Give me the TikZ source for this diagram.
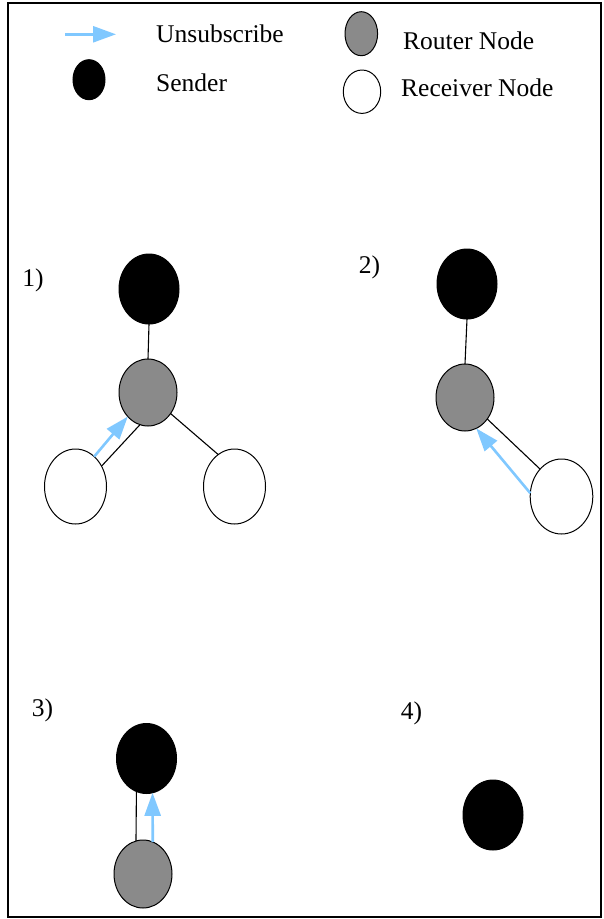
\documentclass[tikz,border=0pt]{standalone}
\usepackage{fontspec}
\setmainfont{Liberation Serif}
\usetikzlibrary{shapes.geometric,arrows.meta}
\definecolor{unsubblue}{RGB}{128,200,255}
\definecolor{routergray}{RGB}{138,138,138}
\begin{document}
\begin{tikzpicture}[x=1pt,y=-1pt,
  nd/.style={ellipse,draw=black,line width=1pt,inner sep=0pt,outer sep=0pt},
  sz/.style 2 args={minimum width=#1pt,minimum height=#2pt},
  sender/.style={nd,fill=black},
  router/.style={nd,fill=routergray},
  receiver/.style={nd,fill=white},
  link/.style={line width=1.1pt},
  unsub/.style={draw=unsubblue,line width=2.6pt,-{Triangle[length=23pt,width=16pt]}},
  lbl/.style={font=\fontsize{25.5}{30}\selectfont,inner sep=0pt},
]
\useasboundingbox (0,0) rectangle (604,919);
\fill[white] (0,0) rectangle (604,919);
% outer frame
\draw[line width=2pt] (7.5,2.5) rectangle (601,916.5);

% legend
\coordinate (la1) at (65,34.3);
\coordinate (la2) at (116,34.3);
\draw[unsub] (la1) -- (la2);
\node[lbl,anchor=base west] (tunsub) at (156,42.5) {Unsubscribe};
\node[sender,sz={32}{40}] (lsend) at (89,79.7) {};
\node[lbl,anchor=base west] (tsend) at (156,91) {Sender};
\node[router,sz={32.6}{44}] (lrout) at (361.3,33.7) {};
\node[lbl,anchor=base west] (trout) at (403,49) {Router Node};
\node[receiver,sz={37.4}{43.4}] (lrecv) at (362,91.7) {};
\node[lbl,anchor=base west] (trecv) at (401,96.5) {Receiver Node};

% panel 1
\node[lbl] (p1) at (33,280) {1)};
\node[sender,sz={60}{70}] (s1) at (149,289) {};
\node[router,sz={58}{67}] (rt1) at (148,392.5) {};
\node[receiver,sz={62}{75}] (rl1) at (75.5,486.5) {};
\node[receiver,sz={62}{75}] (rr1) at (234.5,486.5) {};
\draw[link] (s1.south) -- (rt1.north);
\draw[link] (rl1.38) -- (rt1.256);
\draw[link] (rt1.317) -- (rr1.117);
\draw[unsub] (rl1.58) -- (rt1.230);

% panel 2
\node[lbl] (p2) at (369.5,267) {2)};
\node[sender,sz={60}{70}] (s2) at (467,284) {};
\node[router,sz={58}{67}] (rt2) at (465,397.5) {};
\node[receiver,sz={62.6}{75}] (rv2) at (561.5,496.5) {};
\draw[link] (s2.south) -- (rt2.north);
\draw[link] (rt2.316) -- (rv2.128);
\draw[unsub] (rv2.174) -- (rt2.290);

% panel 3
\node[lbl] (p3) at (42.5,710) {3)};
\node[sender,sz={60}{70}] (s3) at (146.5,758.5) {};
\node[router,sz={58}{68}] (rt3) at (143,874) {};
\draw[link] (s3.253) -- (rt3.102);
\draw[unsub] (rt3.73) -- (s3.280);

% panel 4
\node[lbl] (p4) at (411.5,713.5) {4)};
\node[sender,sz={60}{70}] (s4) at (493,815) {};
\end{tikzpicture}
\end{document}
